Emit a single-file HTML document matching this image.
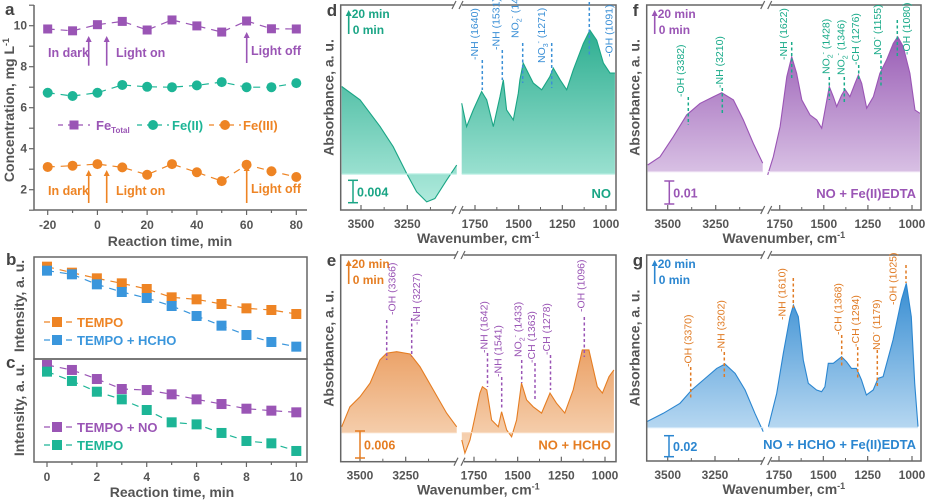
<!DOCTYPE html>
<html><head><meta charset="utf-8">
<style>
html,body{margin:0;padding:0;background:#fff;}
svg{display:block;font-family:"Liberation Sans",sans-serif;}
.tk{font-size:12px;font-weight:bold;fill:#555;}
.ti{font-size:14px;font-weight:bold;fill:#555;}
.lt{font-size:17px;font-weight:bold;fill:#444;}
</style></head>
<body>
<svg id="fig" width="928" height="504" viewBox="0 0 928 504" xmlns="http://www.w3.org/2000/svg">
<defs id="defs"></defs>
</svg>
<script>
// ---------- Panel a data ----------
const aTimes=[-20,-10,0,10,20,30,40,50,60,70,80];
const aFeTotal=[9.84,9.75,10.05,10.21,9.79,10.28,9.99,9.69,10.23,9.85,9.84];
const aFeII=[6.73,6.57,6.73,7.11,7.02,7.0,7.09,7.25,7.0,7.0,7.2];
const aFeIII=[3.11,3.17,3.25,3.09,2.73,3.25,2.85,2.42,3.22,2.9,2.62];
const aYTicks=[2,4,6,8,10];
const aXTicks=[-20,0,20,40,60,80];
// ---------- Panels b,c data ----------
const bcTimes=[0,1,2,3,4,5,6,7,8,9,10];
const bTempo=[1.0,.928,.86,.8,.732,.632,.608,.552,.5,.48,.432];
const bTempoHCHO=[.952,.908,.788,.696,.624,.528,.408,.292,.18,.096,.04];
const cTempoNO=[.982,.929,.832,.725,.714,.668,.614,.564,.514,.493,.475];
const cTempo=[.911,.811,.696,.614,.5,.368,.346,.254,.168,.143,.061];
const bcXTicks=[0,2,4,6,8,10];
// ---------- Spectra data (absorbance in mAU) ----------
const dWnL=[3604,3505,3397,3326,3254,3200,3145,3101,3037,2983];
const dAbsL=[15.7,13.3,8.5,4.9,0.1,-3.2,-5.0,-4.4,-1.1,1.6];
const dWnR=[1826,1798,1760,1712,1683,1645,1607,1588,1569,1531,1502,1493,1474,1416,1368,1321,1302,1263,1225,1187,1130,1092,1053,1015,977,949];
const dAbsR=[12.7,8.5,11.5,14.8,13.3,8.5,13.9,16.9,11.5,9.7,14.5,16.9,19.9,16.3,15.1,17.5,19.0,16.9,15.1,18.7,23.4,25.8,24.0,19.9,18.1,18.1];
const fWnL=[3604,3540,3471,3401,3332,3262,3219,3158,3106,3054,3005];
const fAbsL=[2.9,6.5,15.2,24.7,29.7,32.6,34.3,31.2,22.5,12.3,3.7];
const fWnR=[1818,1786,1748,1710,1682,1654,1625,1578,1540,1512,1493,1469,1446,1427,1399,1380,1352,1323,1304,1285,1257,1219,1182,1144,1106,1081,1050,1012,983,955];
const fAbsR=[-1.4,6.5,19.6,41.3,50.0,42.8,31.2,24.7,22.5,18.9,26.8,37.0,32.6,28.3,33.3,35.8,32.6,38.4,42.0,38.4,27.6,32.6,42.8,48.6,55.8,58.7,54.4,42.8,26.8,25.4];
const eWnL=[3600,3555,3500,3445,3391,3354,3299,3226,3172,3099,3026,2971];
const eAbsL=[1.3,5.7,7.9,10.9,16.0,17.5,17.8,17.3,14.5,9.4,4.3,1.3];
const eWnR=[1820,1802,1773,1744,1716,1702,1677,1649,1611,1592,1563,1535,1506,1478,1449,1411,1363,1315,1278,1230,1182,1130,1092,1044,1015,977,949];
const eAbsR=[-1.6,-4.5,-1.6,3.5,8.7,10.1,9.4,2.8,1.3,4.6,0.6,-0.9,2.8,10.9,7.2,5.7,4.3,8.7,6.5,4.3,9.4,18.2,18.2,10.1,8.7,12.3,13.8];
const gWnL=[3611,3523,3435,3373,3312,3241,3197,3144,3091,3039,2995];
const gAbsL=[5.7,13.7,23.2,35.9,45.4,56.5,60.6,51.8,35.9,13.7,-3.8];
const gWnR=[1810,1763,1726,1688,1669,1641,1613,1585,1538,1510,1491,1472,1444,1397,1369,1341,1313,1285,1257,1219,1191,1163,1107,1060,1032,1004,985,966];
const gAbsR=[1.0,32.7,70.8,105.7,116.8,105.7,64.4,42.3,35.9,34.3,39.0,61.3,61.3,67.6,62.8,56.5,56.5,45.4,31.1,35.9,47.0,48.6,83.5,121.6,137.5,105.7,42.3,1.0];

const NS="http://www.w3.org/2000/svg";
const svg=document.getElementById('fig');
const defs=document.getElementById('defs');
function mk(tag,attrs,parent){const e=document.createElementNS(NS,tag);for(const k in attrs)e.setAttribute(k,attrs[k]);(parent||svg).appendChild(e);return e;}
function txt(s,x,y,cls,extra,parent){const t=mk('text',Object.assign({x:x,y:y,'class':cls||''},extra||{}),parent);t.textContent=s;return t;}

const PUR='#9a55b5',TEAL='#1db596',ORG='#ee8424',BLUE='#3a96dc';

// ================= Panel a =================
const xA=t=>47.7+(t+20)*2.486;
const yA=v=>25.7+(10-v)*20.5;
let ga=mk('g',{});


let l=txt('a',5,15,'lt',{},ga);

mk('line',{x1:34,y1:5,x2:34,y2:210,stroke:'#666','stroke-width':1.5},ga);
mk('line',{x1:34,y1:210,x2:307,y2:210,stroke:'#666','stroke-width':1.5},ga);
for(let v=1;v<=11;v++){const y=yA(v);mk('line',{x1:29,y1:y,x2:34,y2:y,stroke:'#666','stroke-width':1.2},ga);}
aYTicks.forEach(v=>{const t=txt(String(v),27,yA(v)+4,'tk',{'text-anchor':'end'},ga);});
for(let tt=-20;tt<=80;tt+=10){const x=xA(tt);mk('line',{x1:x,y1:210,x2:x,y2:tt%20===0?215:213,stroke:'#666','stroke-width':1.2},ga);}
aXTicks.forEach(v=>{const t=txt(String(v),xA(v),229,'tk',{'text-anchor':'middle'},ga);});
let at=txt('Reaction time, min',170,246,'ti',{'text-anchor':'middle'},ga);

let ay=mk('text',{x:0,y:0,'class':'ti','text-anchor':'middle',transform:'translate(14,110) rotate(-90)'},ga);
ay.innerHTML='Concentration, mg L<tspan dy="-5" font-size="9">-1</tspan>';

function seriesA(vals,color,shape,name){
  const g=mk('g',{},ga);
  
  
  mk('polyline',{points:aTimes.map((t,i)=>xA(t)+','+yA(vals[i])).join(' '),fill:'none',stroke:color,'stroke-width':1.2,'stroke-dasharray':'7,6'},g);
  aTimes.forEach((t,i)=>{
    let m;
    if(shape==='sq') m=mk('rect',{x:xA(t)-4.5,y:yA(vals[i])-4.5,width:9,height:9,fill:color},g);
    else m=mk('circle',{cx:xA(t),cy:yA(vals[i]),r:5,fill:color},g);
    
    
  });
}
seriesA(aFeTotal,PUR,'sq','fe-total-series');
seriesA(aFeII,TEAL,'ci','fe-ii-series');
seriesA(aFeIII,ORG,'ci','fe-iii-series');
function arrow(x,y1,y2,color){mk('line',{x1:x,y1:y1,x2:x,y2:y2+5,stroke:color,'stroke-width':1.6},ga);mk('polygon',{points:`${x-3},${y2+6} ${x+3},${y2+6} ${x},${y2}`,fill:color},ga);}
arrow(88.7,65.7,36,PUR);arrow(106.7,65.7,36,PUR);arrow(246.7,63,32,PUR);
arrow(88.7,203,170,ORG);arrow(106.7,203,170,ORG);arrow(246.7,203,165,ORG);
[['In dark',48,57,PUR],['Light on',116,57,PUR],['Light off',251,55,PUR],['In dark',48,195,ORG],['Light on',116,195,ORG],['Light off',251,193,ORG]].forEach(a=>{
  const t=txt(a[0],a[1],a[2],'',{'font-size':'12.5','font-weight':'bold',fill:a[3]},ga);
  
});
// legend a
function legA(x,color,shape,label,tx,name){
  const g=mk('g',{},ga);
  
  
  mk('line',{x1:x-16,y1:125,x2:x+16,y2:125,stroke:color,'stroke-width':1.2,'stroke-dasharray':'5,5'},g);
  if(shape==='sq')mk('rect',{x:x-4.5,y:120.5,width:9,height:9,fill:color},g);else mk('circle',{cx:x,cy:125,r:5,fill:color},g);
  const t=mk('text',{x:tx,y:130,'font-size':'13','font-weight':'bold',fill:color},g);t.innerHTML=label;
}
legA(74,PUR,'sq','Fe<tspan dy="3" font-size="8">Total</tspan>',96,'legend-fe-total');
legA(153,TEAL,'ci','Fe(II)',172,'legend-fe-ii');
legA(225,ORG,'ci','Fe(III)',243,'legend-fe-iii');

// ================= Panels b, c =================
const xB=t=>47+t*24.93;
const yB=v=>250+(300-v*250)/3;
const yC=v=>250+(620-v*280)/3;
let gbc=mk('g',{});


mk('rect',{x:34,y:257,width:273,height:102,fill:'none',stroke:'#666','stroke-width':1.5},gbc);
mk('rect',{x:34,y:359,width:273,height:103,fill:'none',stroke:'#666','stroke-width':1.5},gbc);
let lb=txt('b',6,265,'lt',{},gbc);
let lc=txt('c',6,368,'lt',{},gbc);
for(let tt=0;tt<=10;tt++){const x=xB(tt);mk('line',{x1:x,y1:462,x2:x,y2:tt%2===0?467:465,stroke:'#666','stroke-width':1.2},gbc);}
bcXTicks.forEach(v=>{const t=txt(String(v),xB(v),481,'tk',{'text-anchor':'middle'},gbc);});
let bt=txt('Reaction time, min',172,497,'ti',{'text-anchor':'middle'},gbc);
[[306,'y-axis-title-b'],[410,'y-axis-title-c']].forEach(a=>{const t=mk('text',{x:0,y:0,'class':'ti','text-anchor':'middle',transform:`translate(24,${a[0]}) rotate(-90)`},gbc);t.textContent='Intensity, a. u.';});
function seriesB(vals,yf,color,name){
  const g=mk('g',{},gbc);
  
  
  mk('polyline',{points:bcTimes.map((t,i)=>xB(t)+','+yf(vals[i])).join(' '),fill:'none',stroke:color,'stroke-width':1.2,'stroke-dasharray':'7,6'},g);
  bcTimes.forEach((t,i)=>{const m=mk('rect',{x:xB(t)-5,y:yf(vals[i])-5,width:10,height:10,fill:color},g);
    
    });
}
seriesB(bTempo,yB,ORG,'b-tempo-series');
seriesB(bTempoHCHO,yB,BLUE,'b-tempo-hcho-series');
seriesB(cTempoNO,yC,PUR,'c-tempo-no-series');
seriesB(cTempo,yC,TEAL,'c-tempo-series');
function legB(y,color,label,name){
  const g=mk('g',{},gbc);
  
  
  mk('line',{x1:44,y1:y,x2:72,y2:y,stroke:color,'stroke-width':1.2,'stroke-dasharray':'6,5'},g);
  mk('rect',{x:52,y:y-5,width:10,height:10,fill:color},g);
  txt(label,77,y+5,'',{'font-size':'13','font-weight':'bold',fill:color},g);
}
legB(322,ORG,'TEMPO','legend-b-tempo');
legB(340,BLUE,'TEMPO + HCHO','legend-b-tempo-hcho');
legB(427,PUR,'TEMPO + NO','legend-c-tempo-no');
legB(445,TEAL,'TEMPO','legend-c-tempo');

// ================= Spectra =================
function spectrum(p){
  const g=mk('g',{});
  
  
  const xL=w=>p.x3500+(3500-w)*(p.x3250-p.x3500)/250;
  const xR=w=>p.x1750+(1750-w)*(p.x1000-p.x1750)/750;
  const y=a=>p.base-a*p.pxPer;
  const gid='grad'+p.id;
  const lg=mk('linearGradient',{id:gid,x1:0,y1:p.T,x2:0,y2:p.B,gradientUnits:'userSpaceOnUse'},defs);
  mk('stop',{offset:'0','stop-color':p.dark},lg);
  mk('stop',{offset:'1','stop-color':p.light},lg);
  function seg(wn,ab,xf,name){
    const pts=wn.map((w,i)=>xf(w).toFixed(1)+','+y(ab[i]).toFixed(1));
    const x0=xf(wn[0]),x1=xf(wn[wn.length-1]);
    const a=mk('polygon',{points:pts.join(' ')+` ${x1.toFixed(1)},${p.base} ${x0.toFixed(1)},${p.base}`,fill:'url(#'+gid+')'},g);
    
    
    const ln=mk('polyline',{points:pts.join(' '),fill:'none',stroke:p.line,'stroke-width':1.1},g);
    
    
    mk('line',{x1:x0,y1:p.base,x2:x1,y2:p.base,stroke:p.light,'stroke-width':1.2},g);
  }
  seg(p.wnL,p.aL,xL,p.id+'-high-wavenumber');
  seg(p.wnR,p.aR,xR,p.id+'-low-wavenumber');
  // frame with break
  const fr=mk('rect',{x:p.L,y:p.T,width:p.R-p.L,height:p.B-p.T,fill:'none',stroke:'#666','stroke-width':1.5},g);
  
  [p.T,p.B].forEach(yy=>{
    mk('rect',{x:p.brk-4,y:yy-3,width:8,height:6,fill:'#fff'},g);
    mk('line',{x1:p.brk-6,y1:yy+4,x2:p.brk-2,y2:yy-4,stroke:'#666','stroke-width':1.2},g);
    mk('line',{x1:p.brk+1,y1:yy+4,x2:p.brk+5,y2:yy-4,stroke:'#666','stroke-width':1.2},g);
  });
  [3500,3250].forEach(w=>{mk('line',{x1:xL(w),y1:p.B,x2:xL(w),y2:p.B-5,stroke:'#666','stroke-width':1.2},g);
    const t=txt(String(w),xL(w),p.B+18,'tk',{'text-anchor':'middle'},g);});
  [3375,3125].forEach(w=>mk('line',{x1:xL(w),y1:p.B,x2:xL(w),y2:p.B-3,stroke:'#666','stroke-width':1},g));
  [1750,1500,1250,1000].forEach(w=>{mk('line',{x1:xR(w),y1:p.B,x2:xR(w),y2:p.B-5,stroke:'#666','stroke-width':1.2},g);
    const t=txt(String(w),xR(w),p.B+18,'tk',{'text-anchor':'middle'},g);});
  [1625,1375,1125].forEach(w=>mk('line',{x1:xR(w),y1:p.B,x2:xR(w),y2:p.B-3,stroke:'#666','stroke-width':1},g));
  const xt=mk('text',{x:(p.L+p.R)/2,y:p.B+33,'class':'ti','text-anchor':'middle'},g);
  xt.innerHTML='Wavenumber, cm<tspan dy="-5" font-size="9">-1</tspan>';
  
  const yt=mk('text',{x:0,y:0,'class':'ti','text-anchor':'middle',transform:`translate(${p.L-7},${(p.T+p.B)/2-10}) rotate(-90)`},g);
  yt.textContent='Absorbance, a. u.';
  
  const lt=txt(p.id,p.L-14,p.T+11,'lt',{},g);
  
  // time legend
  const ax=p.L+8;
  mk('line',{x1:ax,y1:p.T+29,x2:ax,y2:p.T+10,stroke:p.line,'stroke-width':1.6},g);
  mk('polygon',{points:`${ax-3},${p.T+11} ${ax+3},${p.T+11} ${ax},${p.T+5}`,fill:p.line},g);
  const t20=txt('20 min',ax+3,p.T+13,'',{'font-size':'12','font-weight':'bold',fill:p.line},g);
  
  const t0=txt('0 min',ax+4,p.T+29,'',{'font-size':'12','font-weight':'bold',fill:p.line},g);
  
  // scale bar
  const sb=mk('g',{},g);
  
  
  mk('line',{x1:p.sbx,y1:p.sby1,x2:p.sbx,y2:p.sby2,stroke:p.line,'stroke-width':1.5},sb);
  mk('line',{x1:p.sbx-5,y1:p.sby1,x2:p.sbx+5,y2:p.sby1,stroke:p.line,'stroke-width':1.5},sb);
  mk('line',{x1:p.sbx-5,y1:p.sby2,x2:p.sbx+5,y2:p.sby2,stroke:p.line,'stroke-width':1.5},sb);
  txt(p.sbLabel,p.sbx+4,(p.sby1+p.sby2)/2+5,'',{'font-size':'12.5','font-weight':'bold',fill:p.line},sb);
  const nm=txt(p.name,p.R-5,p.B-12,'',{'font-size':'13','font-weight':'bold',fill:p.line,'text-anchor':'end'},g);
  
  // peak annotations
  p.peaks.forEach(k=>{
    const pg=mk('g',{},g);
    
    
    mk('line',{x1:k[4],y1:k[5],x2:k[4],y2:k[6],stroke:p.ann,'stroke-width':1.5,'stroke-dasharray':'3,2.5'},pg);
    const t=mk('text',{x:0,y:0,'font-size':'10.5',fill:p.ann,transform:`translate(${k[1]+4},${k[3]}) rotate(-90)`},pg);
    t.innerHTML=k[0];
  });
}
const NO2='NO<tspan dy="3" font-size="7">2</tspan><tspan dy="-7" font-size="7">-</tspan><tspan dy="4"> </tspan>';
const NO3='NO<tspan dy="3" font-size="7">3</tspan><tspan dy="-7" font-size="7">-</tspan><tspan dy="4"> </tspan>';
const NOm='NO<tspan dy="-4" font-size="7">-</tspan><tspan dy="4"> </tspan>';
spectrum({id:'d',L:340.7,R:616,T:5,B:210,brk:458,x3500:361,x3250:407.3,x1750:475,x1000:606,base:174,pxPer:5.574,
  dark:'#1aa585',light:'#b5ede0',line:'#1aa585',ann:'#3a8fd6',wnL:dWnL,aL:dAbsL,wnR:dWnR,aR:dAbsR,
  sbx:353,sby1:180.3,sby2:202.7,sbLabel:'0.004',name:'NO',
  peaks:[['-NH (1640)',474,28,60,482.3,60,90],['-NH (1531)',495.7,20,50,502.3,50,80],[NO2+'(1435)',514.3,3,38,522.7,43,83],[NO3+'(1271)',541,13,63,551.7,43,88],['-OH (1091)',608.7,10,57,589.3,2,55]]});
spectrum({id:'f',L:646.7,R:921,T:5,B:210,brk:766.7,x3500:667.7,x3250:715.7,x1750:779.7,x1000:912,base:171.7,pxPer:2.3,
  dark:'#8a45aa',light:'#eadcf1',line:'#9a55b5',ann:'#1aab8a',wnL:fWnL,aL:fAbsL,wnR:fWnR,aR:fAbsR,
  sbx:669.3,sby1:181,sby2:204,sbLabel:'0.01',name:'NO + Fe(II)EDTA',
  peaks:[['-OH (3382)',680,60,97,688.3,97,125],['-NH (3210)',719,27,88,722.3,88,113],['-NH (1622)',783,20,60,791.7,42,80],[NO2+'(1428)',825.3,15,74,829.3,77,100],[NO2+'(1346)',840.3,30,75,844.3,77,103],['-CH (1276)',855,23,65,858.7,65,80],[NOm+'(1155)',877,13,55,881,55,87],['-OH (1080)',906,13,55,897.3,20,57]]});
spectrum({id:'e',L:340.7,R:616,T:255,B:461.7,brk:460,x3500:360,x3250:405.7,x1750:474,x1000:605,base:432.7,pxPer:4.55,
  dark:'#e0701a',light:'#f8dcc2',line:'#e57d22',ann:'#9a55b5',wnL:eWnL,aL:eAbsL,wnR:eWnR,aR:eAbsR,
  sbx:360,sby1:431,sby2:458,sbLabel:'0.006',name:'NO + HCHO',
  peaks:[['-OH (3366)',391.7,265,315,386.7,320,360],['-NH (3227)',416,278,325,411.7,318,357],['-NH (1642)',483.3,308,353,487.5,353,387],['-NH (1541)',497.7,330,377,501.7,377,410],[NO2+'(1433)',517.7,300,357,521.7,360,383],['-CH (1363)',531,315,363,535,363,400],['-CH (1278)',546,305,355,550.5,355,390],['-OH (1096)',580.3,262,312,584.3,317,357]]});
spectrum({id:'g',L:646.7,R:921,T:255,B:461,brk:766.7,x3500:667.7,x3250:715,x1750:779,x1000:912,base:427.7,pxPer:1.05,
  dark:'#1f7fcc',light:'#d3e8f8',line:'#2b86d0',ann:'#e07b24',wnL:gWnL,aL:gAbsL,wnR:gWnR,aR:gAbsR,
  sbx:669,sby1:435.7,sby2:456.7,sbLabel:'0.02',name:'NO + HCHO + Fe(II)EDTA',
  peaks:[['-OH (3370)',687.7,318,367,690.7,367,400],['-NH (3202)',720.3,303,352,724.3,352,378],['-NH (1610)',781.7,272,320,793.3,278,308],['-CH (1368)',837.7,287,335,841.7,335,367],['-CH (1294)',855,300,347,857.7,347,380],[NOm+'(1179)',876,305,350,877.3,350,387],['-OH (1025)',892.7,260,305,906,265,283]]});
</script>
</body></html>
